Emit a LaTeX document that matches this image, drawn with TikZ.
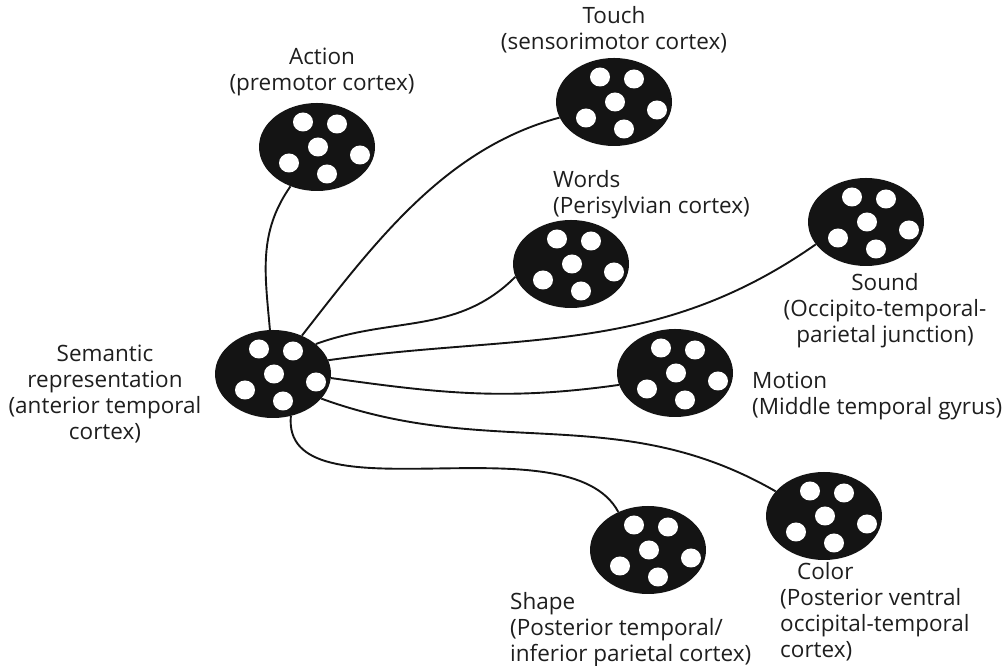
\documentclass[tikz,border=0pt]{standalone}
\usepackage{fontspec}
\setmainfont{Open Sans}
\usepackage{tikz}
\usetikzlibrary{shapes.geometric, positioning}
\definecolor{blobdark}{RGB}{20,20,20}
\definecolor{txtdark}{RGB}{30,30,30}

\tikzset{
  blob/.style={ellipse, fill=blobdark, minimum width=116pt, minimum height=88pt, inner sep=0pt},
  lbl/.style={font=\fontsize{22.5}{26}\selectfont, text=txtdark, inner sep=0pt},
  link/.style={line width=1.9pt, blobdark}
}

\begin{document}
\begin{tikzpicture}[x=1pt, y=1pt]
        % Cadre
        \useasboundingbox (0,0) rectangle (1006,666);

        % --- Ellipses (regions) ---
        \node[blob] (sem)    at (273,292) {};
        \node[blob] (act)    at (317,519) {};
        \node[blob] (touch)  at (614,564) {};
        \node[blob] (words)  at (571,402) {};
        \node[blob] (sound)  at (866,444) {};
        \node[blob] (motion) at (675,293) {};
        \node[blob] (color)  at (824,150) {};
        \node[blob] (shape)  at (648,116) {};

        % --- Points blancs : 6 par ellipse ---
        \foreach \b in {sem, act, touch, words, sound, motion, color, shape} {
            \foreach \dx/\dy in {-14/25, 20/23, 1/0, -28/-16, 10/-27, 43/-8} {
                \fill[white] ([shift={(\dx,\dy)}]\b.center) circle[x radius=10pt, y radius=9.5pt];
            }
        }

        % --- Liens depuis la representation semantique ---
        \draw[link] (sem.94) to[out=95, in=235] (act.236);
        \draw[link] (sem.53) to[out=52, in=195, looseness=0.9] (touch.196);
        \draw[link] (sem.35) to[out=20, in=225] (words.193);
        \draw[link] (sem.14) to[out=8, in=215] (sound.204);
        \draw[link] (sem.-4) to[out=-8, in=188] (motion.192);
        \draw[link] (sem.-27) to[out=-20, in=150] (color.153);
        \draw[link] (sem.-67) to[out=-95, in=118, looseness=0.8] (shape.128);

        % --- Etiquettes ---
        \node[lbl, align=center] (semlbl) at (105,272) {Semantic\\representation\\(anterior temporal\\cortex)};
        \node[lbl, align=center] (actlbl) at (322,594) {Action\\(premotor cortex)};
        \node[lbl, align=center] (touchlbl) at (614,636) {Touch\\(sensorimotor cortex)};
        \node[lbl, align=left, anchor=west] (wordslbl) at (553,471) {Words\\(Perisylvian cortex)};
        \node[lbl, align=center] (soundlbl) at (885,355) {Sound\\(Occipito-temporal-\\parietal junction)};
        \node[lbl, align=left, anchor=west] (motionlbl) at (752,270) {Motion\\(Middle temporal gyrus)};
        \node[lbl, align=left, anchor=west] (shapelbl) at (510,36) {Shape\\(Posterior temporal/\\inferior parietal cortex)};
        \node[lbl, align=left, anchor=west] (colorlbl) at (780,54) {\hspace{17pt}Color\\(Posterior ventral\\occipital-temporal\\cortex)};
    \end{tikzpicture}
\end{document}
